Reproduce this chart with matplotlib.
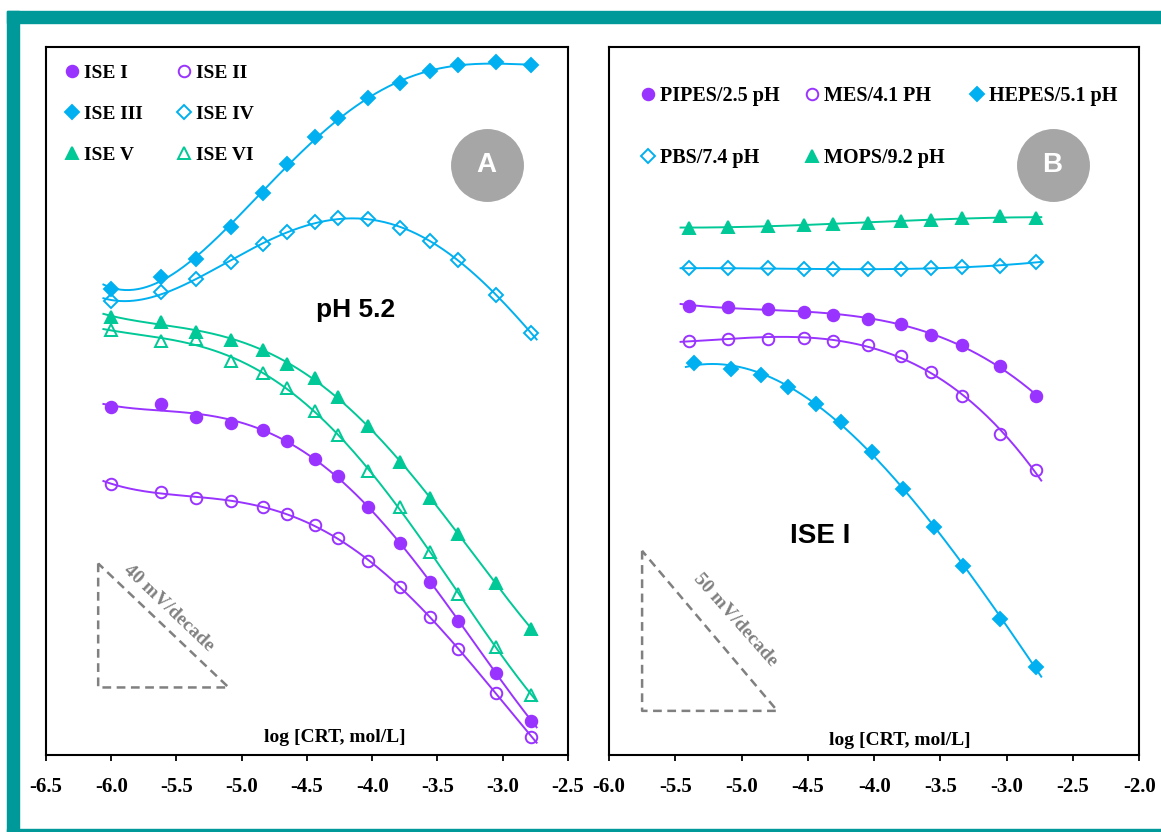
import numpy as np
import matplotlib.pyplot as plt
from matplotlib.lines import Line2D
from matplotlib.patches import Rectangle

plt.rcParams['axes.unicode_minus'] = False

PURPLE = '#9933FF'
BLUE = '#00B0F0'
GREEN = '#00C896'
TEAL = '#009999'
GREY = '#A6A6A6'

# ---- panel A : six electrodes at pH 5.2 (potential, mV, arbitrary offset)
log_c_a = [-6.00, -5.62, -5.35, -5.08, -4.84, -4.65, -4.44, -4.26, -4.03, -3.79, -3.56, -3.34, -3.05, -2.78]
ise_1 = [112.2, 113.2, 108.9, 107.0, 104.9, 101.3, 95.6, 89.9, 80.1, 68.3, 55.9, 43.3, 26.4, 11.1]
ise_2 = [87.4, 84.9, 82.9, 81.8, 79.9, 77.8, 74.1, 69.9, 62.7, 54.1, 44.5, 34.3, 19.9, 5.9]
ise_3 = [150.4, 154.3, 160.1, 170.3, 181.4, 190.7, 199.3, 205.5, 211.8, 216.7, 220.5, 222.5, 223.5, 222.5]
ise_4 = [146.5, 149.4, 153.5, 158.9, 164.7, 168.8, 171.9, 173.2, 173.0, 170.1, 165.7, 159.6, 148.3, 136.1]
ise_5 = [141.4, 139.8, 136.5, 133.9, 130.6, 126.1, 121.5, 115.6, 106.1, 94.5, 82.8, 71.2, 55.6, 40.6]
ise_6 = [137.1, 133.6, 134.1, 127.0, 123.3, 118.3, 110.9, 103.2, 91.7, 79.9, 65.6, 52.0, 34.8, 19.4]

# ---- panel B : ISE I in different buffers
log_c_b = [-5.40, -5.10, -4.80, -4.53, -4.31, -4.05, -3.80, -3.57, -3.34, -3.05, -2.78]
log_c_hepes = [-5.36, -5.08, -4.85, -4.65, -4.44, -4.25, -4.02, -3.78, -3.55, -3.33, -3.05, -2.78]
pipes = [140.3, 140.1, 139.4, 138.4, 137.6, 136.3, 134.6, 131.3, 128.0, 121.6, 112.2]
mes = [129.5, 129.9, 130.1, 130.3, 129.5, 128.1, 124.8, 119.8, 112.2, 100.2, 89.0]
hepes = [122.6, 120.5, 118.8, 115.1, 109.6, 104.2, 94.8, 83.1, 71.2, 59.2, 42.5, 27.6]
pbs = [152.1, 152.1, 152.0, 151.8, 151.8, 151.8, 151.9, 152.1, 152.4, 152.8, 154.0]
mops = [164.6, 165.1, 165.4, 165.6, 165.9, 166.2, 166.7, 167.2, 167.7, 168.4, 167.7]

ticks_a = [-6.5, -6.0, -5.5, -5.0, -4.5, -4.0, -3.5, -3.0, -2.5]
ticks_b = [-6.0, -5.5, -5.0, -4.5, -4.0, -3.5, -3.0, -2.5, -2.0]

serif = dict(family='Liberation Serif', weight='bold')
sans = dict(family='Liberation Sans', weight='bold')


def draw_series(ax, x, y, color, marker, filled, deg, ms):
    coef = np.polyfit(x, y, deg)
    xs = np.linspace(min(x) - 0.06, max(x) + 0.04, 200)
    ax.plot(xs, np.polyval(coef, xs), color=color, lw=1.4, zorder=2)
    ax.plot(x, y, ls='none', marker=marker, ms=ms, mew=1.4, color=color,
            mfc=color if filled else 'none', zorder=3)


def handle(color, marker, filled, ms, label):
    return Line2D([], [], ls='none', marker=marker, ms=ms, mew=1.4, color=color,
                  mfc=color if filled else 'none', label=label)


def slope_triangle(ax, x0, x1, y0, h, text, tx, ty, rot):
    ax.plot([x0, x0, x1, x0], [y0 + h, y0, y0, y0 + h], ls='--', dashes=(3.5, 2.2),
            color='#808080', lw=1.8, zorder=1)
    ax.text(tx, ty, text, rotation=rot, ha='center', va='center', color='#808080',
            fontsize=14, rotation_mode='anchor', **serif)


def style_axes(ax, ticks):
    ax.set_xlim(ticks[0], ticks[-1])
    ax.set_xticks(ticks)
    ax.set_xticklabels(['%.1f' % t for t in ticks], fontsize=15, **serif)
    ax.set_yticks([])
    ax.tick_params(axis='x', direction='out', length=4, width=1.3, pad=12)
    for s in ax.spines.values():
        s.set_linewidth(1.5)


fig = plt.figure(figsize=(11.61, 8.32), dpi=100)

# teal frame
fig.patches.append(Rectangle((0.0058, 0.9727), 0.9942, 0.0141, transform=fig.transFigure,
                             color=TEAL, zorder=0))
fig.patches.append(Rectangle((0.0058, 0.0), 0.0106, 0.9868, transform=fig.transFigure,
                             color=TEAL, zorder=0))
fig.patches.append(Rectangle((0.0058, 0.0), 0.9942, 0.0032, transform=fig.transFigure,
                             color=TEAL, zorder=0))

# ---------------- panel A
axA = fig.add_axes([0.0396, 0.0925, 0.4496, 0.8514])
style_axes(axA, ticks_a)
axA.set_ylim(0, 228.5)

series_a = [
    (ise_1, PURPLE, 'o', True, 8.3, 'ISE I'),
    (ise_3, BLUE, 'D', True, 6.8, 'ISE III'),
    (ise_5, GREEN, '^', True, 8.5, 'ISE V'),
    (ise_2, PURPLE, 'o', False, 8.3, 'ISE II'),
    (ise_4, BLUE, 'D', False, 6.8, 'ISE IV'),
    (ise_6, GREEN, '^', False, 8.5, 'ISE VI'),
]
for y, c, m, f, ms, lab in series_a:
    draw_series(axA, log_c_a, y, c, m, f, 4, ms)
axA.legend(handles=[handle(c, m, f, ms, lab) for y, c, m, f, ms, lab in series_a],
           ncol=2, loc='upper left', bbox_to_anchor=(0.035, 0.975), frameon=False,
           prop=dict(size=14, **serif), handlelength=0.8, handletextpad=0.2,
           columnspacing=1.75, labelspacing=1.2, borderaxespad=0, borderpad=0)

axA.plot([-3.123], [190.3], 'o', ms=52.5, color=GREY, mew=0, zorder=1)
axA.text(-3.123, 190.3, 'A', ha='center', va='center', color='white', fontsize=20, **sans)
axA.text(-4.13, 143.5, 'pH 5.2', ha='center', va='center', fontsize=19, **sans)
axA.text(-4.29, 5.8, 'log [CRT, mol/L]', ha='center', va='center', fontsize=14, **serif)
slope_triangle(axA, -6.10, -5.10, 21.8, 40, '40 mV/decade', -5.56, 47.4, -43.5)

# ---------------- panel B
axB = fig.add_axes([0.5245, 0.0925, 0.4569, 0.8514])
style_axes(axB, ticks_b)
axB.set_ylim(0, 221.3)

series_b = [
    (log_c_b, pipes, PURPLE, 'o', True, 8.3, 'PIPES/2.5 pH'),
    (log_c_b, pbs, BLUE, 'D', False, 6.8, 'PBS/7.4 pH'),
    (log_c_b, mes, PURPLE, 'o', False, 8.3, 'MES/4.1 PH'),
    (log_c_b, mops, GREEN, '^', True, 8.5, 'MOPS/9.2 pH'),
    (log_c_hepes, hepes, BLUE, 'D', True, 6.8, 'HEPES/5.1 pH'),
]
for x, y, c, m, f, ms, lab in series_b:
    draw_series(axB, x, y, c, m, f, 3, ms)
axB.legend(handles=[handle(c, m, f, ms, lab) for x, y, c, m, f, ms, lab in series_b],
           ncol=3, loc='upper left', bbox_to_anchor=(0.058, 0.945), frameon=False,
           prop=dict(size=14.5, **serif), handlelength=0.8, handletextpad=0.2,
           columnspacing=1.2, labelspacing=2.1, borderaxespad=0, borderpad=0)

axB.plot([-2.655], [184.2], 'o', ms=52.5, color=GREY, mew=0, zorder=1)
axB.text(-2.655, 184.2, 'B', ha='center', va='center', color='white', fontsize=20, **sans)
axB.text(-4.41, 68.4, 'ISE I', ha='center', va='center', fontsize=20, **sans)
axB.text(-3.81, 4.5, 'log [CRT, mol/L]', ha='center', va='center', fontsize=14, **serif)
slope_triangle(axB, -5.75, -4.73, 13.8, 50, '50 mV/decade', -5.05, 42.2, -48.5)

fig.savefig('out.png', dpi=100)
